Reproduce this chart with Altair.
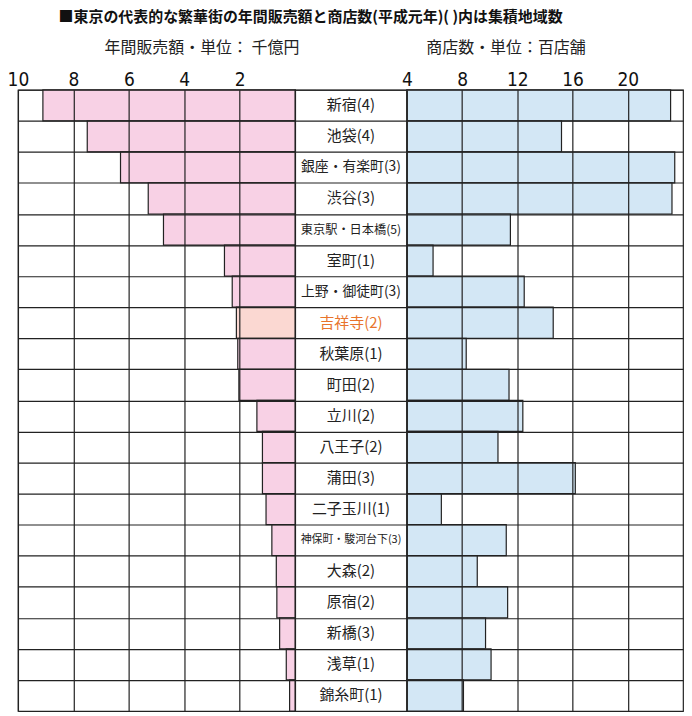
import altair as alt
import pandas as pd

# ---- data ----
names = ["新宿(4)", "池袋(4)", "銀座・有楽町(3)", "渋谷(3)", "東京駅・日本橋(5)",
         "室町(1)", "上野・御徒町(3)", "吉祥寺(2)", "秋葉原(1)", "町田(2)",
         "立川(2)", "八王子(2)", "蒲田(3)", "二子玉川(1)", "神保町・駿河台下(3)",
         "大森(2)", "原宿(2)", "新橋(3)", "浅草(1)", "錦糸町(1)"]
sales = [9.1, 7.5, 6.3, 5.3, 4.75, 2.55, 2.27, 2.12, 2.07, 2.03,
         1.38, 1.18, 1.18, 1.05, 0.84, 0.68, 0.66, 0.56, 0.32, 0.2]
shops = [23.1, 15.2, 23.4, 23.2, 11.5, 5.9, 12.5, 14.6, 8.3, 11.4,
         12.4, 10.6, 16.2, 6.5, 11.2, 9.1, 11.3, 9.7, 10.1, 8.1]
sales_ticks = [2, 4, 6, 8, 10]
shop_ticks = [4, 8, 12, 16, 20]
highlight = "吉祥寺(2)"

TITLE = "■東京の代表的な繁華街の年間販売額と商店数(平成元年)( )内は集積地域数"
SUB_L = "年間販売額・単位： 千億円"
SUB_R = "商店数・単位：百店舗"

df = pd.DataFrame({"name": names, "sales": sales, "shops": shops,
                   "row": list(range(len(names)))})

JP = "Noto Sans CJK JP"
NUM = "DejaVu Sans Condensed, Liberation Sans Narrow, Roboto Condensed, sans-serif"
LINE = "#222222"
PINK = "#f8d1e5"
PEACH = "#fbd8d2"
BLUE = "#d3e7f5"
ORANGE = "#e8742c"
H = 623

base = alt.Chart(df).transform_calculate(
    row_end="datum.row + 1", mid="datum.row + 0.5"
)

yscale = alt.Scale(domain=[0, len(names)], reverse=True, nice=False, zero=False)
yaxis = alt.Axis(values=list(range(len(names) + 1)), labels=False, ticks=False,
                 domain=False, title=None, grid=True, gridColor=LINE,
                 gridWidth=1.2, gridOpacity=1, zindex=1, minExtent=0)

is_hl = alt.datum.name == highlight


def top_axis(values, title, tx):
    return alt.Axis(orient="top", values=values, grid=True, gridColor=LINE,
                    gridWidth=1.2, gridOpacity=1, ticks=False, domain=False,
                    labelFont=NUM, labelFontSize=19, labelColor="#111",
                    labelPadding=4, labelBaseline="alphabetic", labelFlush=False,
                    title=title, titleX=tx, titleY=-42, titleBaseline="middle",
                    titleAlign="center", titleFont=JP, titleFontSize=16,
                    titleFontWeight="normal", titleColor="#222", titleLimit=1000,
                    zindex=1, minExtent=0)


left = base.mark_bar(stroke=LINE, strokeWidth=1.2).encode(
    x=alt.X("sales:Q", scale=alt.Scale(domain=[0, 10], reverse=True, nice=False),
            axis=top_axis(sales_ticks, SUB_L, 184)),
    x2=alt.datum(0),
    y=alt.Y("row:Q", scale=yscale, axis=yaxis),
    y2="row_end:Q",
    color=alt.when(is_hl).then(alt.value(PEACH)).otherwise(alt.value(PINK)),
).properties(width=278, height=H)

mid = base.transform_calculate(
    fs="min(15, 104 / (length(datum.name) - 1.5))", xc="0.5"
).mark_text(font=JP, baseline="middle", align="center").encode(
    x=alt.X("xc:Q", scale=alt.Scale(domain=[0, 1]),
            axis=alt.Axis(orient="top", labels=False, ticks=False, domain=False,
                          grid=False, title=TITLE, titleX=15, titleY=-80,
                          titleBaseline="top", titleAlign="center", titleFont=JP,
                          titleFontSize=15, titleFontWeight="bold",
                          titleColor="#111", titleLimit=1000, minExtent=0)),
    y=alt.Y("mid:Q", scale=yscale, axis=yaxis),
    text="name:N",
    size=alt.Size("fs:Q", scale=None),
    color=alt.when(is_hl).then(alt.value(ORANGE)).otherwise(alt.value("#222")),
).properties(width=112, height=H)

right = base.mark_bar(stroke=LINE, strokeWidth=1.2).encode(
    x=alt.X("shops:Q", scale=alt.Scale(domain=[4, 24], nice=False, zero=False),
            axis=top_axis(shop_ticks, SUB_R, 99)),
    x2=alt.datum(4),
    y=alt.Y("row:Q", scale=yscale, axis=yaxis),
    y2="row_end:Q",
    color=alt.value(BLUE),
).properties(width=277, height=H)

chart = alt.hconcat(left, mid, right, spacing=0, bounds="flush").configure_view(
    stroke=LINE, strokeWidth=1.2
).properties(padding={"left": 6, "top": 8, "right": 8, "bottom": 0},
             background="white")

chart.save("out.html", embed_options={"renderer": "svg", "actions": False})
